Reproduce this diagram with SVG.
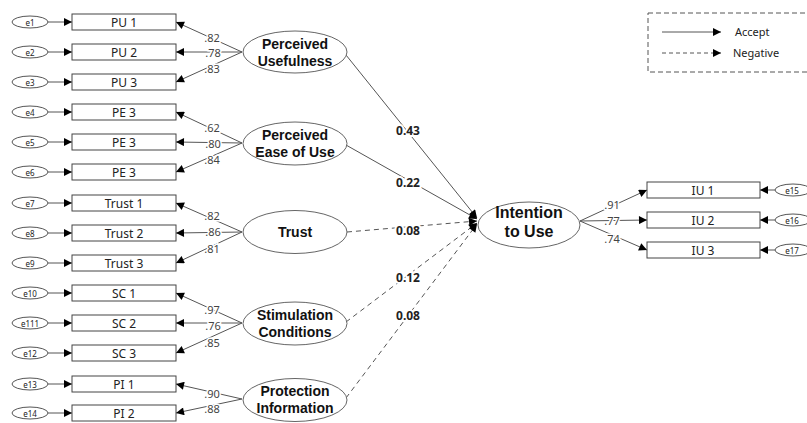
<svg xmlns="http://www.w3.org/2000/svg" width="807" height="423" viewBox="0 0 807 423">
<defs>
<marker id="ah" viewBox="0 0 10 10" refX="10" refY="5" markerWidth="10" markerHeight="8" markerUnits="userSpaceOnUse" orient="auto"><path d="M0,0 L10,5 L0,10 z" fill="#000"/></marker>
<style>
text{font-family:"Noto Sans","Open Sans","DejaVu Sans",sans-serif;fill:#222}
.box{fill:#fff;stroke:#444;stroke-width:1}
.err{fill:#fff;stroke:#555;stroke-width:1}
.lat{fill:#fff;stroke:#666;stroke-width:1}
.et{font-size:8px;text-anchor:middle;dominant-baseline:central}
.bt{font-size:12px;text-anchor:middle;dominant-baseline:central}
.lt{font-family:"Liberation Sans",Arial,sans-serif;font-size:14px;font-weight:bold;text-anchor:middle;fill:#111}
.it{font-size:16px}
.ld{font-size:11px;text-anchor:middle;dominant-baseline:central;fill:#444;stroke:#fff;stroke-width:3;paint-order:stroke}
.pl{font-size:12px;font-weight:bold;text-anchor:middle;dominant-baseline:central;fill:#222;stroke:#fff;stroke-width:4;paint-order:stroke}
.ln{stroke:#555;stroke-width:1;fill:none}
.dl{stroke:#555;stroke-width:1;fill:none;stroke-dasharray:5,4}
.ar{marker-end:url(#ah)}
</style>
</defs>
<rect width="807" height="423" fill="#fff"/>

<g id="connectors">
<line class="ln ar" x1="48" y1="22" x2="72" y2="22"/>
<line class="ln ar" x1="48" y1="52" x2="72" y2="52"/>
<line class="ln ar" x1="48" y1="82" x2="72" y2="82"/>
<line class="ln ar" x1="48" y1="112" x2="72" y2="112"/>
<line class="ln ar" x1="48" y1="142" x2="72" y2="142"/>
<line class="ln ar" x1="48" y1="172" x2="72" y2="172"/>
<line class="ln ar" x1="48" y1="203" x2="72" y2="203"/>
<line class="ln ar" x1="48" y1="233" x2="72" y2="233"/>
<line class="ln ar" x1="48" y1="263" x2="72" y2="263"/>
<line class="ln ar" x1="48" y1="293" x2="72" y2="293"/>
<line class="ln ar" x1="48" y1="323" x2="72" y2="323"/>
<line class="ln ar" x1="48" y1="353" x2="72" y2="353"/>
<line class="ln ar" x1="48" y1="384" x2="72" y2="384"/>
<line class="ln ar" x1="48" y1="413" x2="72" y2="413"/>
<line class="ln ar" x1="242" y1="52" x2="176" y2="22"/>
<line class="ln ar" x1="242" y1="52" x2="176" y2="52"/>
<line class="ln ar" x1="242" y1="52" x2="176" y2="82"/>
<line class="ln ar" x1="242" y1="143" x2="176" y2="112"/>
<line class="ln ar" x1="242" y1="143" x2="176" y2="142"/>
<line class="ln ar" x1="242" y1="143" x2="176" y2="172"/>
<line class="ln ar" x1="242" y1="232" x2="176" y2="203"/>
<line class="ln ar" x1="242" y1="232" x2="176" y2="233"/>
<line class="ln ar" x1="242" y1="232" x2="176" y2="263"/>
<line class="ln ar" x1="242" y1="323" x2="176" y2="293"/>
<line class="ln ar" x1="242" y1="323" x2="176" y2="323"/>
<line class="ln ar" x1="242" y1="323" x2="176" y2="353"/>
<line class="ln ar" x1="242" y1="399" x2="176" y2="384"/>
<line class="ln ar" x1="242" y1="399" x2="176" y2="413"/>
<text class="ld" x="212" y="37">.82</text>
<text class="ld" x="213" y="52">.78</text>
<text class="ld" x="212" y="68">.83</text>
<text class="ld" x="212" y="127">.62</text>
<text class="ld" x="213" y="143">.80</text>
<text class="ld" x="212" y="159">.84</text>
<text class="ld" x="212" y="215">.82</text>
<text class="ld" x="213" y="231">.86</text>
<text class="ld" x="212" y="248">.81</text>
<text class="ld" x="212" y="309">.97</text>
<text class="ld" x="213" y="325">.76</text>
<text class="ld" x="212" y="342">.85</text>
<text class="ld" x="212" y="393">.90</text>
<text class="ld" x="212" y="408">.88</text>
<line class="ln ar" x1="346" y1="55" x2="477" y2="218"/>
<line class="ln ar" x1="346" y1="145" x2="477" y2="219"/>
<line class="dl ar" x1="347" y1="232" x2="477" y2="221"/>
<line class="dl ar" x1="346" y1="322" x2="477" y2="223"/>
<line class="dl ar" x1="346" y1="398" x2="477" y2="224"/>
<text class="pl" x="408" y="130">0.43</text>
<text class="pl" x="408" y="182">0.22</text>
<text class="pl" x="408" y="230">0.08</text>
<text class="pl" x="408" y="277">0.12</text>
<text class="pl" x="408" y="315">0.08</text>
<line class="ln ar" x1="580" y1="221" x2="647" y2="190"/>
<line class="ln ar" x1="580" y1="221" x2="647" y2="220"/>
<line class="ln ar" x1="580" y1="221" x2="647" y2="250"/>
<text class="ld" x="612" y="204">.91</text>
<text class="ld" x="612" y="220">.77</text>
<text class="ld" x="612" y="238">.74</text>
<line class="ln ar" x1="775" y1="190" x2="760" y2="190"/>
<line class="ln ar" x1="775" y1="220" x2="760" y2="220"/>
<line class="ln ar" x1="775" y1="250" x2="760" y2="250"/>
</g>

<g id="e1"><ellipse class="err" cx="30" cy="22" rx="18" ry="6"/><text class="et" x="30" y="22">e1</text></g>
<g id="e2"><ellipse class="err" cx="30" cy="52" rx="18" ry="6"/><text class="et" x="30" y="52">e2</text></g>
<g id="e3"><ellipse class="err" cx="30" cy="82" rx="18" ry="6"/><text class="et" x="30" y="82">e3</text></g>
<g id="e4"><ellipse class="err" cx="30" cy="112" rx="18" ry="6"/><text class="et" x="30" y="112">e4</text></g>
<g id="e5"><ellipse class="err" cx="30" cy="142" rx="18" ry="6"/><text class="et" x="30" y="142">e5</text></g>
<g id="e6"><ellipse class="err" cx="30" cy="172" rx="18" ry="6"/><text class="et" x="30" y="172">e6</text></g>
<g id="e7"><ellipse class="err" cx="30" cy="203" rx="18" ry="6"/><text class="et" x="30" y="203">e7</text></g>
<g id="e8"><ellipse class="err" cx="30" cy="233" rx="18" ry="6"/><text class="et" x="30" y="233">e8</text></g>
<g id="e9"><ellipse class="err" cx="30" cy="263" rx="18" ry="6"/><text class="et" x="30" y="263">e9</text></g>
<g id="e10"><ellipse class="err" cx="30" cy="293" rx="18" ry="6"/><text class="et" x="30" y="293">e10</text></g>
<g id="e111"><ellipse class="err" cx="30" cy="323" rx="18" ry="6"/><text class="et" x="30" y="323">e111</text></g>
<g id="e12"><ellipse class="err" cx="30" cy="353" rx="18" ry="6"/><text class="et" x="30" y="353">e12</text></g>
<g id="e13"><ellipse class="err" cx="30" cy="384" rx="18" ry="6"/><text class="et" x="30" y="384">e13</text></g>
<g id="e14"><ellipse class="err" cx="30" cy="413" rx="18" ry="6"/><text class="et" x="30" y="413">e14</text></g>

<g id="pu1"><rect class="box" x="72" y="14" width="104" height="16"/><text class="bt" x="124" y="22">PU 1</text></g>
<g id="pu2"><rect class="box" x="72" y="44" width="104" height="16"/><text class="bt" x="124" y="52">PU 2</text></g>
<g id="pu3"><rect class="box" x="72" y="74" width="104" height="16"/><text class="bt" x="124" y="82">PU 3</text></g>
<g id="pe3a"><rect class="box" x="72" y="104" width="104" height="16"/><text class="bt" x="124" y="112">PE 3</text></g>
<g id="pe3b"><rect class="box" x="72" y="134" width="104" height="16"/><text class="bt" x="124" y="142">PE 3</text></g>
<g id="pe3c"><rect class="box" x="72" y="164" width="104" height="16"/><text class="bt" x="124" y="172">PE 3</text></g>
<g id="trust1"><rect class="box" x="72" y="195" width="104" height="16"/><text class="bt" x="124" y="203">Trust 1</text></g>
<g id="trust2"><rect class="box" x="72" y="225" width="104" height="16"/><text class="bt" x="124" y="233">Trust 2</text></g>
<g id="trust3"><rect class="box" x="72" y="255" width="104" height="16"/><text class="bt" x="124" y="263">Trust 3</text></g>
<g id="sc1"><rect class="box" x="72" y="285" width="104" height="16"/><text class="bt" x="124" y="293">SC 1</text></g>
<g id="sc2"><rect class="box" x="72" y="315" width="104" height="16"/><text class="bt" x="124" y="323">SC 2</text></g>
<g id="sc3"><rect class="box" x="72" y="345" width="104" height="16"/><text class="bt" x="124" y="353">SC 3</text></g>
<g id="pi1"><rect class="box" x="72" y="376" width="104" height="16"/><text class="bt" x="124" y="384">PI 1</text></g>
<g id="pi2"><rect class="box" x="72" y="405" width="104" height="16"/><text class="bt" x="124" y="413">PI 2</text></g>

<g id="perceived-usefulness"><ellipse class="lat" cx="295" cy="52" rx="52" ry="21"/><text class="lt" x="295" y="49">Perceived</text><text class="lt" x="295" y="66">Usefulness</text></g>
<g id="perceived-ease"><ellipse class="lat" cx="295" cy="143.5" rx="52" ry="21.5"/><text class="lt" x="295" y="140">Perceived</text><text class="lt" x="295" y="157">Ease  of  Use</text></g>
<g id="trust"><ellipse class="lat" cx="295" cy="232" rx="52" ry="21.5"/><text class="lt" x="295" y="237">Trust</text></g>
<g id="stimulation"><ellipse class="lat" cx="295" cy="323.5" rx="52" ry="21.5"/><text class="lt" x="295" y="320">Stimulation</text><text class="lt" x="295" y="337">Conditions</text></g>
<g id="protection"><ellipse class="lat" cx="295" cy="400" rx="52" ry="21.5"/><text class="lt" x="295" y="396">Protection</text><text class="lt" x="295" y="413">Information</text></g>

<g id="intention"><ellipse class="lat" cx="529" cy="225" rx="51" ry="23"/><text class="lt it" x="529" y="218">Intention</text><text class="lt it" x="529" y="237">to  Use</text></g>

<g id="iu1"><rect class="box" x="647" y="182" width="113" height="16"/><text class="bt" x="703" y="190">IU 1</text></g>
<g id="iu2"><rect class="box" x="647" y="212" width="113" height="16"/><text class="bt" x="703" y="220">IU 2</text></g>
<g id="iu3"><rect class="box" x="647" y="242" width="113" height="16"/><text class="bt" x="703" y="250">IU 3</text></g>
<g id="e15"><ellipse class="err" cx="793" cy="190" rx="18" ry="6"/><text class="et" x="792" y="190">e15</text></g>
<g id="e16"><ellipse class="err" cx="793" cy="220" rx="18" ry="6"/><text class="et" x="792" y="220">e16</text></g>
<g id="e17"><ellipse class="err" cx="793" cy="250" rx="18" ry="6"/><text class="et" x="792" y="250">e17</text></g>

<g id="legend">
<rect x="648" y="13" width="170" height="59" fill="none" stroke="#555" stroke-dasharray="5,3"/>
<line class="ln ar" x1="662" y1="32" x2="721" y2="32"/>
<line class="dl ar" x1="662" y1="53" x2="721" y2="53" style="stroke-dasharray:4,3"/>
<text x="735" y="36" style="font-size:11px">Accept</text>
<text x="733" y="57" style="font-size:11px">Negative</text>
</g>
</svg>
